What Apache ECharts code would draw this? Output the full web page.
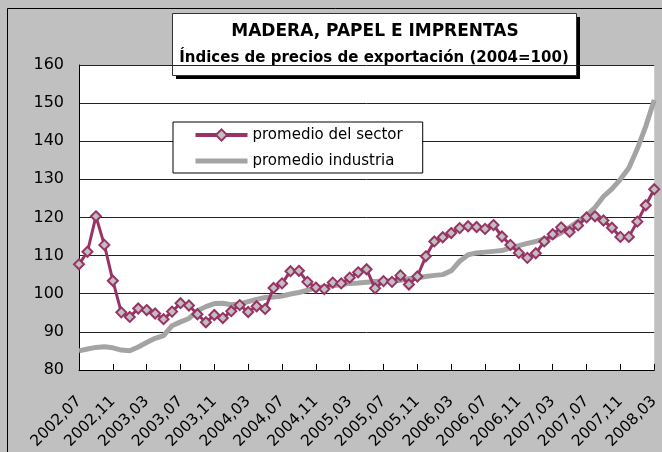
<!DOCTYPE html>
<html>
<head>
<meta charset="utf-8">
<script src="https://cdn.jsdelivr.net/npm/echarts@6.0.0/dist/echarts.min.js"></script>
<style>
  html, body { margin: 0; padding: 0; background: #c0c0c0; }
  #chart { width: 662px; height: 452px; }
</style>
</head>
<body>
<div id="chart"></div>
<script>
// months 2002,07 .. 2008,03
const months = [
  "2002,07", "2002,08", "2002,09", "2002,10", "2002,11", "2002,12",
  "2003,01", "2003,02", "2003,03", "2003,04", "2003,05", "2003,06", "2003,07", "2003,08", "2003,09", "2003,10", "2003,11", "2003,12",
  "2004,01", "2004,02", "2004,03", "2004,04", "2004,05", "2004,06", "2004,07", "2004,08", "2004,09", "2004,10", "2004,11", "2004,12",
  "2005,01", "2005,02", "2005,03", "2005,04", "2005,05", "2005,06", "2005,07", "2005,08", "2005,09", "2005,10", "2005,11", "2005,12",
  "2006,01", "2006,02", "2006,03", "2006,04", "2006,05", "2006,06", "2006,07", "2006,08", "2006,09", "2006,10", "2006,11", "2006,12",
  "2007,01", "2007,02", "2007,03", "2007,04", "2007,05", "2007,06", "2007,07", "2007,08", "2007,09", "2007,10", "2007,11", "2007,12",
  "2008,01", "2008,02", "2008,03",
];

const sectorValues = [
  107.7, 111.0, 120.3, 112.8, 103.4, 95.1,
  93.9, 96.1, 95.7, 94.8, 93.3, 95.3, 97.5, 96.9, 94.6, 92.5, 94.4, 93.6,
  95.4, 97.0, 95.2, 96.7, 96.0, 101.5, 102.7, 105.9, 106.0, 103.1, 101.6, 101.2,
  102.9, 102.7, 104.2, 105.6, 106.4, 101.4, 103.3, 103.1, 104.8, 102.4, 104.5, 109.8,
  113.7, 114.8, 115.9, 117.2, 117.7, 117.5, 117.0, 118.0, 115.0, 112.8, 110.7, 109.4,
  110.6, 113.7, 115.6, 117.4, 116.2, 117.9, 120.0, 120.3, 119.2, 117.3, 114.9, 114.9,
  118.9, 123.2, 127.4,
];

const industryValues = [
  85.0, 85.5, 85.9, 86.1, 85.8, 85.2,
  85.0, 86.0, 87.2, 88.3, 89.0, 91.6, 92.6, 93.5, 95.5, 96.6, 97.4, 97.5,
  97.1, 97.3, 97.9, 98.5, 99.0, 99.1, 99.4, 99.9, 100.3, 100.9, 101.5, 101.8,
  102.1, 102.4, 102.7, 102.8, 103.0, 103.2, 103.3, 103.3, 103.5, 103.9, 104.2, 104.5,
  104.8, 105.0, 106.0, 108.5, 110.2, 110.7, 110.9, 111.1, 111.3, 112.0, 112.6, 113.2,
  113.7, 114.3, 114.8, 116.0, 117.4, 119.0, 120.5, 122.6, 125.5, 127.5, 130.0, 133.0,
  138.0, 143.9, 150.8,
];

const seriesNames = ["promedio del sector", "promedio industria"];
const titleLines = ["MADERA, PAPEL E IMPRENTAS", "Índices de precios de exportación (2004=100)"];

const FONT = "DejaVu Sans";

const chart = echarts.init(document.getElementById("chart"), null, { renderer: "canvas" });

chart.setOption({
  backgroundColor: "#c0c0c0",
  animation: false,
  textStyle: { fontFamily: FONT },
  grid: {
    left: 79,
    right: 0,
    top: 65,
    bottom: 80,
    show: true,
    backgroundColor: "#ffffff",
    borderWidth: 0,
  },
  legend: {
    data: [
      { name: seriesNames[0], lineStyle: { width: 4 } },
      { name: seriesNames[1], itemStyle: { opacity: 0 }, lineStyle: { width: 5 } },
    ],
    orient: "vertical",
    left: 173,
    top: 122,
    width: 246,
    padding: [4, 20, 3, 20],
    itemGap: 8,
    itemWidth: 52,
    itemHeight: 14,
    backgroundColor: "#ffffff",
    borderColor: "#000000",
    borderWidth: 1,
    textStyle: { fontFamily: FONT, fontSize: 15, color: "#000", lineHeight: 18 },
  },
  xAxis: {
    type: "category",
    data: months,
    boundaryGap: false,
    axisLine: { lineStyle: { color: "#000", width: 1 } },
    axisTick: { inside: true, length: 6, interval: 3, lineStyle: { color: "#000" } },
    axisLabel: {
      interval: 3,
      rotate: 45,
      margin: 29,
      fontFamily: FONT,
      fontSize: 15.5,
      color: "#000",
    },
    splitLine: { show: false },
  },
  yAxis: {
    type: "value",
    min: 80,
    max: 160,
    interval: 10,
    axisLine: { show: true, lineStyle: { color: "#000", width: 1 } },
    axisTick: { show: false },
    axisLabel: { margin: 15, fontFamily: FONT, fontSize: 16, color: "#000" },
    splitLine: { lineStyle: { color: "#222", width: 1 } },
  },
  series: [
    {
      name: seriesNames[0],
      type: "line",
      data: sectorValues,
      z: 4,
      symbol: "diamond",
      symbolSize: 10,
      showAllSymbol: true,
      lineStyle: { color: "#993366", width: 3 },
      itemStyle: { color: "#c0c0c0", borderColor: "#993366", borderWidth: 2 },
    },
    {
      name: seriesNames[1],
      type: "line",
      data: industryValues,
      z: 3,
      symbol: "none",
      lineStyle: { color: "#a4a4a4", width: 5 },
      itemStyle: { color: "#a4a4a4" },
    },
  ],
  graphic: [
    {
      type: "rect",
      z: 100,
      shape: { x: 7.5, y: 8.5, width: 720, height: 500 },
      style: { fill: "none", stroke: "#000", lineWidth: 1 },
      silent: true,
    },
    {
      type: "group",
      z: 100,
      children: [
        {
          type: "rect",
          shape: { x: 176, y: 17, width: 404, height: 62 },
          style: { fill: "#000" },
        },
        {
          type: "rect",
          shape: { x: 172.5, y: 13.5, width: 404, height: 62 },
          style: { fill: "#fff", stroke: "#333", lineWidth: 1 },
        },
        {
          type: "text",
          x: 375,
          y: 32,
          style: {
            text: titleLines[0],
            font: `bold 17px "${FONT}"`,
            fill: "#000",
            align: "center",
            verticalAlign: "middle",
          },
        },
        {
          type: "text",
          x: 374,
          y: 58,
          style: {
            text: titleLines[1],
            font: `bold 15px "${FONT}"`,
            fill: "#000",
            align: "center",
            verticalAlign: "middle",
          },
        },
      ],
    },
  ],
});
</script>
</body>
</html>
